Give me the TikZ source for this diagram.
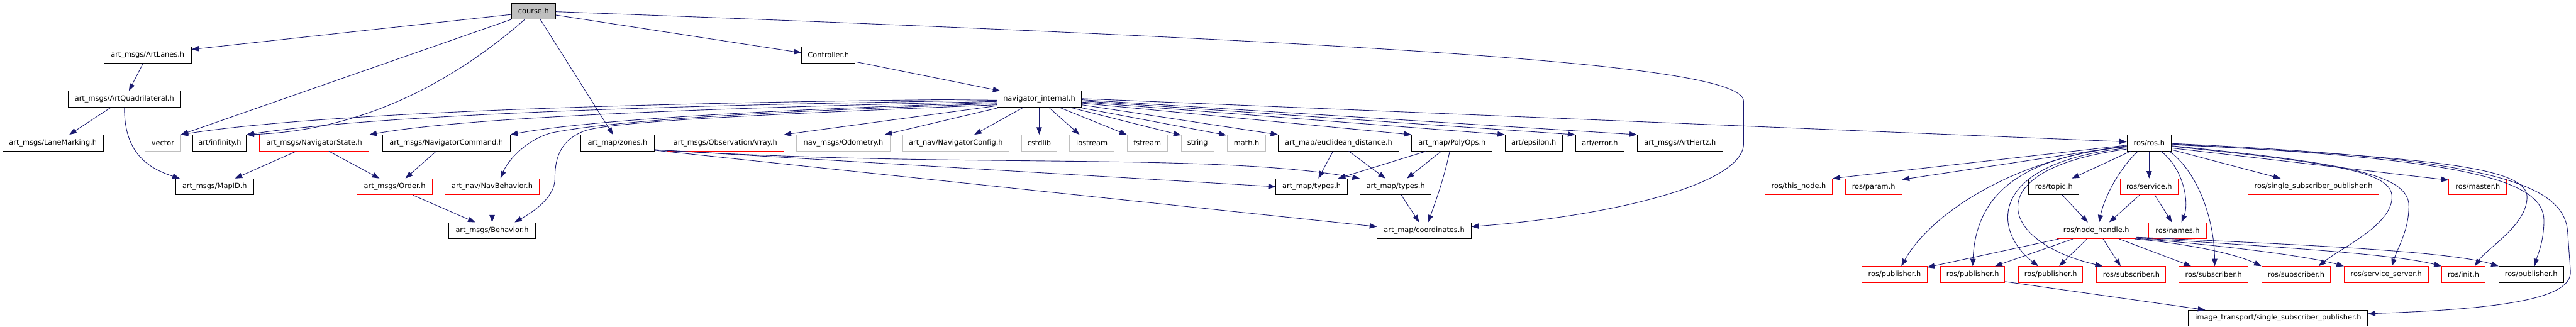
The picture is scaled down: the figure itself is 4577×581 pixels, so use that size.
\documentclass[tikz,border=0pt]{standalone}
\usepackage{fontspec}
\setmainfont{DejaVu Sans}
\usetikzlibrary{arrows.meta,calc}
\definecolor{edgeblue}{HTML}{191970}
\definecolor{extgray}{HTML}{BFBFBF}
\definecolor{truncred}{HTML}{FF0000}
\tikzset{
  box/.style={draw=black, line width=1.1pt, minimum height=28.4pt, inner sep=0pt, font=\fontsize{12.7}{15}\selectfont},
  extbox/.style={box, draw=extgray},
  redbox/.style={box, draw=truncred},
  dep/.style={draw=edgeblue, line width=1pt, -{Triangle[length=13pt,width=9.5pt]}},
}
\begin{document}
\begin{tikzpicture}[x=1pt,y=-1pt]
\useasboundingbox (0,0) rectangle (4577,581);
% row 1
\node[box, fill=extgray, minimum width=78pt] (course) at (948,19.8) {course.h};
% row 2
\node[box, minimum width=155pt] (artlanes) at (262.3,97.8) {art\_msgs/ArtLanes.h};
\node[box, minimum width=95.3pt] (controller) at (1472,97.8) {Controller.h};
% row 3
\node[box, minimum width=199.4pt] (quad) at (221,176.2) {art\_msgs/ArtQuadrilateral.h};
\node[box, minimum width=149.6pt] (navint) at (1846.5,176.2) {navigator\_internal.h};
% row 4
\node[box, minimum width=179.1pt] (lanemark) at (94.1,254) {art\_msgs/LaneMarking.h};
\node[extbox, minimum width=62.7pt] (vector) at (289.4,254) {vector};
\node[box, minimum width=94.8pt] (infinity) at (390.4,254) {art/infinity.h};
\node[redbox, minimum width=194.6pt] (navstate) at (558.5,254) {art\_msgs/NavigatorState.h};
\node[box, minimum width=226.5pt] (navcmd) at (793.1,254) {art\_msgs/NavigatorCommand.h};
\node[box, minimum width=130.5pt] (zones) at (1097.2,254) {art\_map/zones.h};
\node[redbox, minimum width=207pt] (obsarr) at (1288.8,254) {art\_msgs/ObservationArray.h};
\node[extbox, minimum width=165.8pt] (odom) at (1498.5,254) {nav\_msgs/Odometry.h};
\node[extbox, minimum width=188.1pt] (navcfg) at (1698.4,254) {art\_nav/NavigatorConfig.h};
\node[extbox, minimum width=62.8pt] (cstdlib) at (1846.5,254) {cstdlib};
\node[extbox, minimum width=79.2pt] (iostream) at (1940,254) {iostream};
\node[extbox, minimum width=72pt] (fstream) at (2038.5,254) {fstream};
\node[extbox, minimum width=58.5pt] (string) at (2127.9,254) {string};
\node[extbox, minimum width=68.5pt] (mathh) at (2214.8,254) {math.h};
\node[box, minimum width=214.5pt] (eucl) at (2378.5,254) {art\_map/euclidean\_distance.h};
\node[box, minimum width=143.1pt] (polyops) at (2579.9,254) {art\_map/PolyOps.h};
\node[box, minimum width=101.4pt] (epsilon) at (2725.1,254) {art/epsilon.h};
\node[box, minimum width=86.9pt] (error) at (2842.6,254) {art/error.h};
\node[box, minimum width=152.3pt] (arthertz) at (2985,254) {art\_msgs/ArtHertz.h};
\node[box, minimum width=78.8pt] (ros) at (3818.6,254) {ros/ros.h};
% row 5
\node[box, minimum width=138.8pt] (mapid) at (381.4,331.8) {art\_msgs/MapID.h};
\node[redbox, minimum width=134pt] (order) at (701.3,331.8) {art\_msgs/Order.h};
\node[redbox, minimum width=167.2pt] (navbeh) at (874.4,331.8) {art\_nav/NavBehavior.h};
\node[box, minimum width=126.9pt] (types1) at (2330.5,331.8) {art\_map/types.h};
\node[box, minimum width=126.7pt] (types2) at (2479.8,331.8) {art\_map/types.h};
\node[redbox, minimum width=120.2pt] (thisnode) at (3195.8,331.8) {ros/this\_node.h};
\node[redbox, minimum width=100.2pt] (param) at (3329,331.8) {ros/param.h};
\node[box, minimum width=89.5pt] (topic) at (3649.2,331.8) {ros/topic.h};
\node[redbox, minimum width=103pt] (service) at (3818.6,331.8) {ros/service.h};
\node[redbox, minimum width=231.6pt] (ssp) at (4110.5,331.8) {ros/single\_subscriber\_publisher.h};
\node[redbox, minimum width=102.7pt] (master) at (4402.5,331.8) {ros/master.h};
% row 6
\node[box, minimum width=153.8pt] (behavior) at (874.4,409.8) {art\_msgs/Behavior.h};
\node[box, minimum width=166.9pt] (coords) at (2530.5,409.8) {art\_map/coordinates.h};
\node[redbox, minimum width=140.1pt] (nh) at (3724.7,409.8) {ros/node\_handle.h};
\node[redbox, minimum width=102.3pt] (names) at (3869,409.8) {ros/names.h};
% row 7
\node[redbox, minimum width=115.3pt] (pub1) at (3366.2,487.7) {ros/publisher.h};
\node[redbox, minimum width=114.1pt] (pub2) at (3505,487.7) {ros/publisher.h};
\node[redbox, minimum width=114.5pt] (pub3) at (3643.6,487.7) {ros/publisher.h};
\node[redbox, minimum width=122.9pt] (sub1) at (3786.8,487.7) {ros/subscriber.h};
\node[redbox, minimum width=122.4pt] (sub2) at (3932.9,487.7) {ros/subscriber.h};
\node[redbox, minimum width=122.6pt] (sub3) at (4079.6,487.7) {ros/subscriber.h};
\node[redbox, minimum width=149.4pt] (srvsrv) at (4239.8,487.7) {ros/service\_server.h};
\node[redbox, minimum width=77.8pt] (init) at (4377.1,487.7) {ros/init.h};
\node[box, minimum width=115.3pt] (pubb) at (4497.4,487.7) {ros/publisher.h};
% row 8
\node[box, minimum width=318.4pt] (itssp) at (4047.8,565.4) {image\_transport/single\_subscriber\_publisher.h};

% ---- edges from course.h
\draw[dep] ($(course.west)+(0,6)$) -- ($(artlanes.east)+(0,-10)$);
\draw[dep] (course.south west) -- (vector.north east);
\draw[dep] ($(course.south west)+(24,0)$) .. controls (800,150) and (640,232) .. (infinity.north east);
\draw[dep] ($(course.south)+(12,0)$) -- ($(zones.north)+(-8,0)$);
\draw[dep] ($(course.east)+(0,7)$) -- ($(controller.west)+(0,-4)$);
\draw[dep] ($(course.east)+(0,1)$) .. controls (2600,80) and (3098,120) .. (3098,180) -- (3098,255)
  .. controls (3098,330) and (2850,385) .. ($(coords.east)+(0,-7)$);
% ---- art_msgs chain
\draw[dep] ($(artlanes.south)+(-8,0)$) -- ($(quad.north)+(8,0)$);
\draw[dep] ($(quad.south)+(-24,0)$) -- ($(lanemark.north)+(29,0)$);
\draw[dep] (quad.south) .. controls (221,260) and (250,295) .. ($(mapid.north west)+(8,0)$);
\draw[dep] ($(controller.east)+(0,12)$) -- ($(navint.north west)+(6,0)$);
% ---- navigator_internal.h
\draw[dep] ($(navint.west)+(0,0)$) .. controls (1300,180) and (600,195) .. (vector.north east);
\draw[dep] ($(navint.west)+(0,2)$) .. controls (1300,185) and (700,200) .. (infinity.north east);
\draw[dep] ($(navint.west)+(0,4)$) .. controls (1350,190) and (850,205) .. (navstate.north east);
\draw[dep] ($(navint.west)+(0,6)$) .. controls (1400,194) and (1050,212) .. (navcmd.north east);
\draw[dep] ($(navint.west)+(0,8)$) .. controls (1400,197) and (1100,212) .. (980,236)
  .. controls (930,250) and (900,290) .. ($(navbeh.north)+(15,0)$);
\draw[dep] ($(navint.west)+(0,10)$) .. controls (1400,202) and (1100,214) .. (1040,232)
  .. controls (990,250) and (986,290) .. (986,317) .. controls (986,350) and (950,375) .. ($(behavior.north)+(40,0)$);
\draw[dep] ($(navint.south west)+(0,-3)$) -- (obsarr.north east);
\draw[dep] ($(navint.south west)+(5,0)$) -- ($(odom.north east)+(-10,0)$);
\draw[dep] ($(navint.south west)+(47,0)$) -- ($(navcfg.north east)+(-62,0)$);
\draw[dep] (navint.south) -- (cstdlib.north);
\draw[dep] ($(navint.south)+(17,0)$) -- ($(iostream.north)+(-22,0)$);
\draw[dep] ($(navint.south)+(36,0)$) -- (fstream.north west);
\draw[dep] ($(navint.south)+(55,0)$) -- ($(string.north west)+(0,1)$);
\draw[dep] ($(navint.south east)+(-4,0)$) -- ($(mathh.north west)+(-1,1)$);
\draw[dep] ($(navint.east)+(0,10)$) -- (eucl.north west);
\draw[dep] ($(navint.east)+(0,7)$) -- (polyops.north west);
\draw[dep] ($(navint.east)+(0,5)$) -- (epsilon.north west);
\draw[dep] ($(navint.east)+(0,3)$) -- (error.north west);
\draw[dep] ($(navint.east)+(0,1)$) -- (arthertz.north west);
\draw[dep] ($(navint.east)+(0,-1)$) -- ($(ros.west)+(0,-2)$);
% ---- art_map
\draw[dep] ($(zones.east)+(0,12)$) -- (types1.west);
\draw[dep] ($(zones.east)+(0,12)$) .. controls (1700,300) and (2150,270) .. (types2.north west);
\draw[dep] ($(zones.east)+(0,13)$) -- ($(coords.west)+(0,-7)$);
\draw[dep] ($(eucl.south)+(-10,0)$) -- ($(types1.north)+(12,0)$);
\draw[dep] ($(eucl.south)+(18,0)$) -- ($(types2.north)+(-18,0)$);
\draw[dep] ($(polyops.south)+(-46,0)$) -- ($(types1.north east)+(-17,0)$);
\draw[dep] ($(polyops.south)+(-19,0)$) -- ($(types2.north)+(20,0)$);
\draw[dep] ($(polyops.south)+(-4,0)$) .. controls (2565,320) and (2550,360) .. ($(coords.north)+(7,0)$);
\draw[dep] ($(types2.south)+(10,0)$) -- ($(coords.north)+(-9,0)$);
% ---- art_msgs lower
\draw[dep] ($(navstate.south)+(-32,0)$) -- ($(mapid.north)+(36,0)$);
\draw[dep] ($(navstate.south east)+(-72,0)$) -- ($(order.north)+(-27,0)$);
\draw[dep] ($(navcmd.south)+(-18,0)$) -- ($(order.north)+(19,0)$);
\draw[dep] ($(order.south)+(32,0)$) -- ($(behavior.north)+(-30,0)$);
\draw[dep] (navbeh.south) -- (behavior.north);
% ---- ros/ros.h
\draw[dep] ($(ros.west)+(0,4)$) -- (thisnode.north east);
\draw[dep] ($(ros.west)+(0,5)$) -- ($(param.north east)+(0,2)$);
\draw[dep] ($(ros.west)+(0,6)$) .. controls (3580,280) and (3430,380) .. ($(pub1.north)+(12,0)$);
\draw[dep] ($(ros.west)+(0,7)$) .. controls (3570,280) and (3510,360) .. (pub2.north);
\draw[dep] ($(ros.west)+(0,9)$) .. controls (3530,290) and (3540,410) .. ($(pub3.north)+(-22,0)$);
\draw[dep] ($(ros.west)+(0,11)$) .. controls (3510,300) and (3550,430) .. ($(sub1.north west)+(11,0)$);
\draw[dep] ($(ros.south west)+(7,0)$) -- ($(topic.north)+(32,0)$);
\draw[dep] ($(ros.south west)+(20,0)$) .. controls (3770,295) and (3740,345) .. ($(nh.north)+(5,0)$);
\draw[dep] (ros.south) -- (service.north);
\draw[dep] ($(ros.south)+(21,0)$) .. controls (3880,300) and (3890,360) .. ($(names.north)+(7,0)$);
\draw[dep] ($(ros.south east)+(-4,0)$) .. controls (3910,310) and (3935,400) .. ($(sub2.north)+(2,0)$);
\draw[dep] ($(ros.east)+(0,12)$) -- ($(ssp.north west)+(58,0)$);
\draw[dep] ($(ros.east)+(0,9)$) -- ($(master.north west)+(0,3)$);
\draw[dep] ($(ros.east)+(0,6)$) .. controls (4150,290) and (4250,305) .. (4250,350)
  .. controls (4250,400) and (4160,440) .. ($(sub3.north)+(40,0)$);
\draw[dep] ($(ros.east)+(0,5)$) .. controls (4170,290) and (4280,310) .. (4280,366)
  .. controls (4280,410) and (4260,440) .. ($(srvsrv.north)+(10,0)$);
\draw[dep] ($(ros.east)+(0,3)$) .. controls (4330,280) and (4490,298) .. (4490,350)
  .. controls (4490,400) and (4420,440) .. ($(init.north)+(20,0)$);
\draw[dep] ($(ros.east)+(0,2)$) .. controls (4360,282) and (4520,315) .. (4520,392)
  .. controls (4520,430) and (4508,455) .. ($(pubb.north)+(6,0)$);
\draw[dep] ($(ros.east)+(0,1)$) .. controls (4400,280) and (4555,320) .. (4562,411) -- (4567,480)
  .. controls (4572,525) and (4480,548) .. ($(itssp.east)+(0,-8)$);
% ---- node_handle etc.
\draw[dep] ($(topic.south)+(15,0)$) -- ($(nh.north)+(-15,0)$);
\draw[dep] ($(service.south)+(-17,0)$) -- ($(nh.north)+(23,0)$);
\draw[dep] ($(service.south)+(10,0)$) -- ($(names.north)+(-10,0)$);
\draw[dep] ($(nh.south west)+(4,0)$) -- ($(pub1.north east)+(0,2)$);
\draw[dep] ($(nh.south west)+(29,0)$) -- ($(pub2.north east)+(-18,0)$);
\draw[dep] ($(nh.south west)+(54,0)$) -- ($(pub3.north)+(15,0)$);
\draw[dep] ($(nh.south)+(12,0)$) -- ($(sub1.north)+(-19,0)$);
\draw[dep] ($(nh.south east)+(-30,0)$) -- ($(sub2.north west)+(22,0)$);
\draw[dep] ($(nh.south east)+(-3,0)$) .. controls (3880,432) and (3970,450) .. (sub3.north west);
\draw[dep] ($(nh.south east)+(0,-1)$) .. controls (3950,436) and (4100,455) .. (srvsrv.north west);
\draw[dep] ($(nh.south east)+(0,-2)$) .. controls (4000,436) and (4250,450) .. (init.north west);
\draw[dep] ($(nh.south east)+(0,-3)$) .. controls (4050,433) and (4350,445) .. (pubb.north west);
\draw[dep] ($(pub2.south east)+(0,-2)$) -- ($(itssp.north west)+(30,0)$);
\end{tikzpicture}
\end{document}
